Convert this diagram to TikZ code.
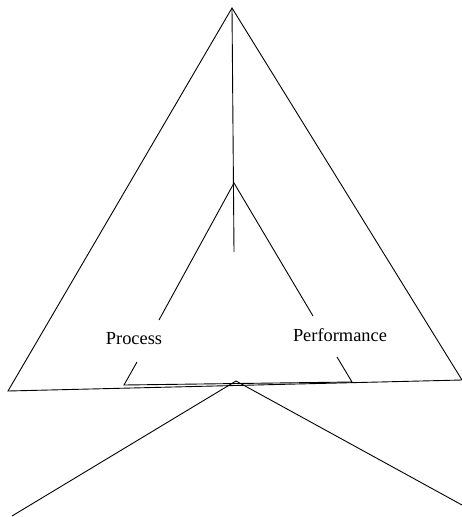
\documentclass[tikz,border=0pt]{standalone}
\usepackage{fontspec}
\setmainfont{Liberation Serif}
\tikzset{
  ln/.style={line width=0.9pt, black},
  lbl/.style={font=\fontsize{18.4}{20}\selectfont, inner sep=0pt},
}
\begin{document}
\begin{tikzpicture}[x=1pt,y=-1pt]
\useasboundingbox (0,0) rectangle (462,517);
% big triangle
\coordinate (apex) at (232,8);
\coordinate (bl) at (8,391);
\coordinate (br) at (462,380);
\draw[ln] (bl) -- (apex) -- (br) -- cycle;
% vertical
\coordinate (vend) at (234,252);
\draw[ln] (apex) -- (vend);
% inner V
\coordinate (iapex) at (234,183);
\coordinate (il) at (159,320);
\coordinate (ir) at (313,316);
\draw[ln] (il) -- (iapex) -- (ir);
% labels
\node[lbl] (proc) at (134,339) {Process};
\node[lbl] (perf) at (340,335) {Performance};
% bracket
\coordinate (b1) at (137,362);
\coordinate (b2) at (124,385);
\coordinate (b3) at (352,382);
\coordinate (b4) at (337,357);
\draw[ln] (b1) -- (b2) -- (b3) -- (b4);
% lower inverted V
\coordinate (lapex) at (236,381);
\coordinate (ll) at (12,516);
\coordinate (lr) at (462,505);
\draw[ln] (ll) -- (lapex) -- (lr);
\end{tikzpicture}
\end{document}
